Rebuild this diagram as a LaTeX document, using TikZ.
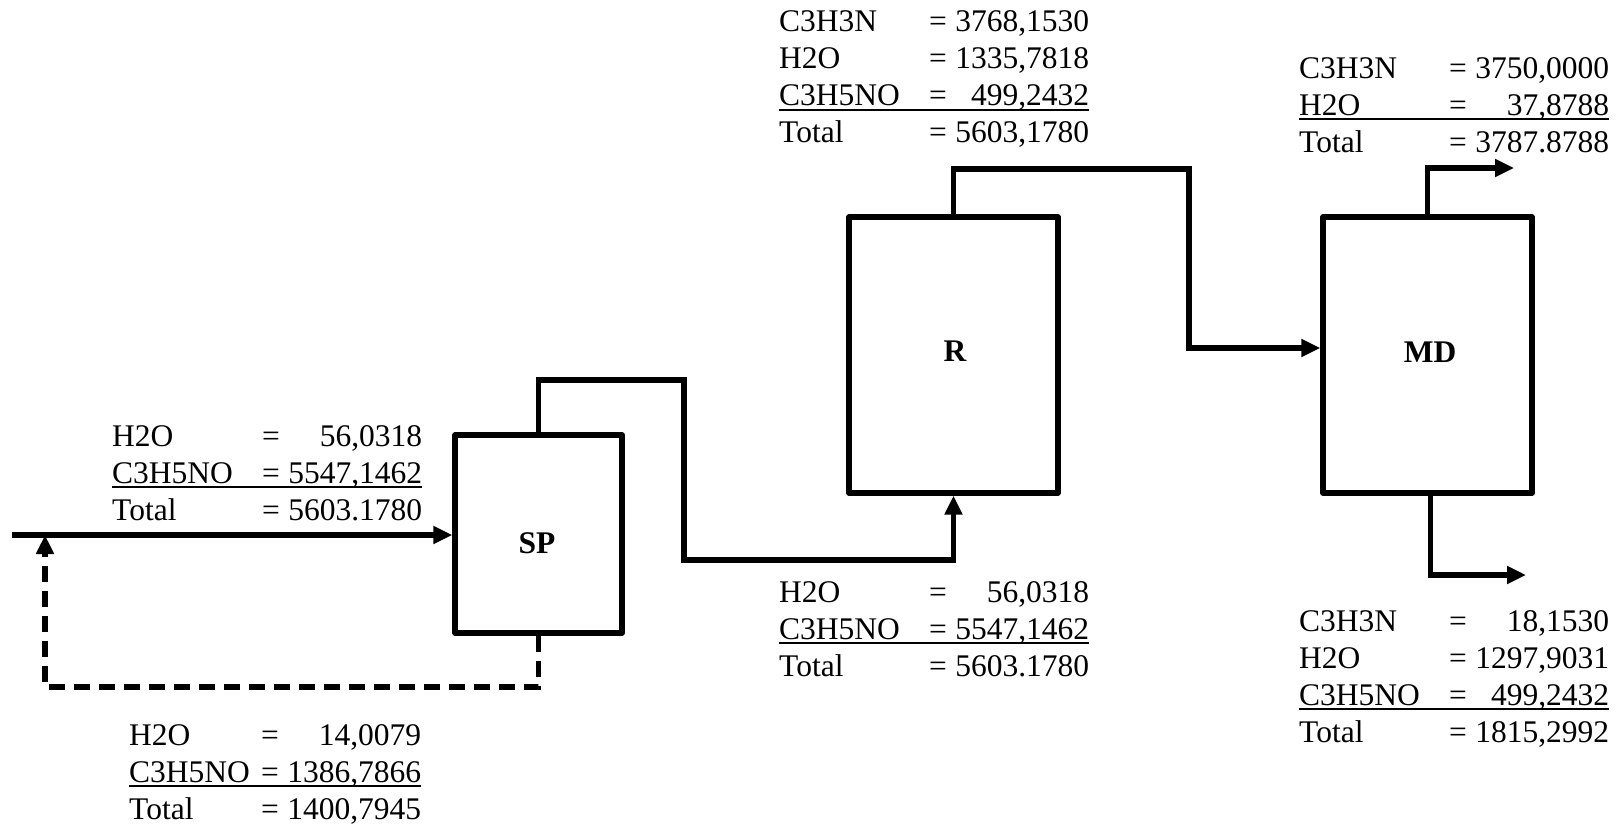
\documentclass[tikz,border=0pt]{standalone}
\usepackage{fontspec}
\setmainfont{Liberation Serif}
\usetikzlibrary{arrows.meta}
\newlength\restw
\setlength\restw{160pt}
\newcommand\srow[3][150pt]{\makebox[#1][l]{#2}\makebox[\restw]{=\hfill#3}}
\newcommand\urow[3][150pt]{\rlap{\rule[-5pt]{\dimexpr#1+\restw\relax}{2pt}}\srow[#1]{#2}{#3}}
\begin{document}
\begin{tikzpicture}[x=1pt,y=-1pt,
  unit/.style={draw,line width=5.2pt,line join=round,inner sep=0pt,minimum width=209pt,minimum height=276pt},
  unitname/.style={inner sep=0pt,font=\fontsize{31.5pt}{37pt}\selectfont\bfseries},
  stream/.style={line width=5.2pt,line join=miter},
  arr/.style={-{Triangle[length=19pt,width=17pt]}},
  recyc/.style={dash pattern=on 16pt off 9pt},
  lbl/.style={inner sep=0pt,anchor=base west,font=\fontsize{31.5pt}{37pt}\selectfont}]
\useasboundingbox (0,0) rectangle (1624,824);

% units
\node[unit,minimum width=167pt,minimum height=198pt] (SP) at (538.5,534) {};
\node[unit] (R) at (953.5,355) {};
\node[unit] (MD) at (1427.5,355) {};
\node[unitname] (SPn) at (537,543) {SP};
\node[unitname] (Rn) at (955,351) {R};
\node[unitname] (MDn) at (1430,352) {MD};

% helper coordinates
\coordinate (feedin) at (12,535);
\coordinate (rc) at (45,687);
\coordinate (c1) at (684,380);
\coordinate (c2) at (684,560);
\coordinate (c3) at (1189,169);
\coordinate (c4) at (1189,348);
\coordinate (c5) at (1514,168);
\coordinate (c6) at (1526,575);

% streams
\draw[stream,arr] (feedin) -- (feedin -| SP.west);
\draw[stream,recyc,arr] (SP.south) |- (rc) -- (rc |- feedin);
\draw[stream,arr] (SP.north) |- (c1) -- (c2) -| (R.south);
\draw[stream,arr] (R.north) |- (c3) -- (c4) -- (c4 -| MD.west);
\draw[stream,arr] (MD.north) |- (c5);
\draw[stream,arr] ([xshift=3pt]MD.south) |- (c6);

% stream tables
\node[lbl] (feedtab) at (112,446) {\begin{tabular}[t]{@{}l@{}}
\srow{H2O}{56,0318}\\
\urow{C3H5NO}{5547,1462}\\
\srow{Total}{5603.1780}
\end{tabular}};

\node[lbl] (rectab) at (129,745) {\begin{tabular}[t]{@{}l@{}}
\srow[132pt]{H2O}{14,0079}\\
\urow[132pt]{C3H5NO}{1386,7866}\\
\srow[132pt]{Total}{1400,7945}
\end{tabular}};

\node[lbl] (rintab) at (779,602) {\begin{tabular}[t]{@{}l@{}}
\srow{H2O}{56,0318}\\
\urow{C3H5NO}{5547,1462}\\
\srow{Total}{5603.1780}
\end{tabular}};

\node[lbl] (routtab) at (779,32) {\begin{tabular}[t]{@{}l@{}}
\srow{C3H3N}{3768,1530}\\
\srow{H2O}{1335,7818}\\
\urow{C3H5NO}{499,2432}\\
\srow{Total}{5603,1780}
\end{tabular}};

\node[lbl] (toptab) at (1299,78.5) {\begin{tabular}[t]{@{}l@{}}
\srow{C3H3N}{3750,0000}\\
\urow{H2O}{37,8788}\\
\srow{Total}{3787.8788}
\end{tabular}};

\node[lbl] (bottab) at (1299,631) {\begin{tabular}[t]{@{}l@{}}
\srow{C3H3N}{18,1530}\\
\srow{H2O}{1297,9031}\\
\urow{C3H5NO}{499,2432}\\
\srow{Total}{1815,2992}
\end{tabular}};
\end{tikzpicture}
\end{document}
